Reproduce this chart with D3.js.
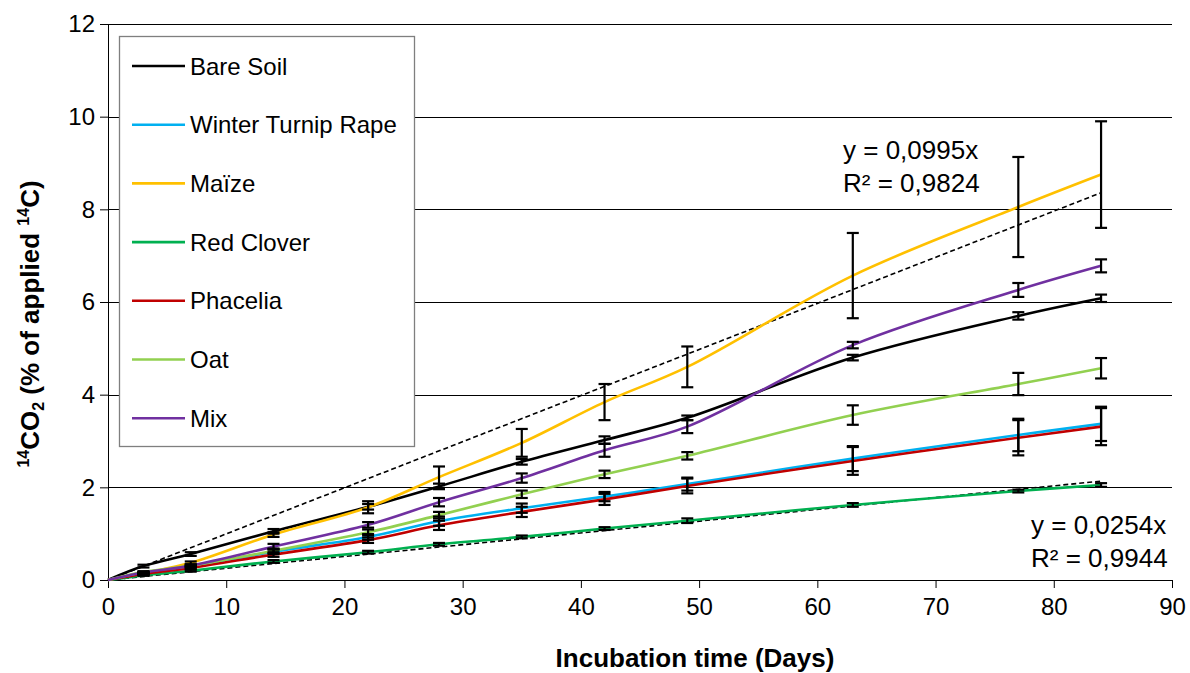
<!DOCTYPE html>
<html><head><meta charset="utf-8">
<script src="https://cdn.jsdelivr.net/npm/d3@7"></script>
<style>body{margin:0;background:#fff;} text{font-family:"Liberation Sans",Arial,sans-serif;}</style>
</head><body>
<svg id="chart" width="1190" height="673"></svg>
<script>
const days = [0, 3, 7, 14, 22, 28, 35, 42, 49, 63, 77, 84];

const seriesNames = ["Bare Soil", "Winter Turnip Rape", "Maïze", "Red Clover", "Phacelia", "Oat", "Mix"];
const seriesColors = ["#000000", "#00B0F0", "#FFC000", "#00B050", "#C00000", "#92D050", "#7030A0"];

const bareSoil  = [0, 0.30, 0.56, 1.05, 1.58, 2.02, 2.55, 3.02, 3.50, 4.80, 5.70, 6.08];
const turnip    = [0, 0.15, 0.29, 0.61, 0.93, 1.27, 1.55, 1.80, 2.07, 2.62, 3.13, 3.37];
const maize     = [0, 0.15, 0.37, 0.98, 1.57, 2.22, 2.96, 3.84, 4.60, 6.57, 8.05, 8.75];
const redClover = [0, 0.10, 0.20, 0.40, 0.60, 0.77, 0.93, 1.11, 1.28, 1.62, 1.92, 2.05];
const phacelia  = [0, 0.13, 0.26, 0.55, 0.86, 1.18, 1.47, 1.74, 2.03, 2.57, 3.07, 3.31];
const oat       = [0, 0.17, 0.31, 0.63, 1.03, 1.40, 1.85, 2.28, 2.68, 3.56, 4.23, 4.57];
const mix       = [0, 0.16, 0.31, 0.72, 1.19, 1.68, 2.20, 2.80, 3.31, 5.07, 6.26, 6.78];

const bareSoilErr  = [0, 0.03, 0.04, 0.05, 0.06, 0.06, 0.06, 0.08, 0.05, 0.06, 0.08, 0.08];
const turnipErr    = [0, 0.02, 0.02, 0.05, 0.06, 0.10, 0.10, 0.10, 0.14, 0.27, 0.35, 0.37];
const maizeErr     = [0, 0.02, 0.03, 0.05, 0.13, 0.23, 0.30, 0.39, 0.44, 0.92, 1.08, 1.15];
const redCloverErr = [0, 0.01, 0.02, 0.03, 0.03, 0.03, 0.03, 0.03, 0.05, 0.04, 0.03, 0.04];
const phaceliaErr  = [0, 0.02, 0.02, 0.05, 0.06, 0.10, 0.11, 0.12, 0.16, 0.30, 0.38, 0.40];
const oatErr       = [0, 0.02, 0.02, 0.05, 0.06, 0.07, 0.08, 0.08, 0.08, 0.21, 0.24, 0.22];
const mixErr       = [0, 0.02, 0.02, 0.06, 0.06, 0.09, 0.10, 0.14, 0.14, 0.07, 0.15, 0.14];

const trendSlopes = [0.0995, 0.0254];
const trendLabels = [["y = 0,0995x", "R² = 0,9824"], ["y = 0,0254x", "R² = 0,9944"]];
const trendEnd = 84;

const xTicks = [0, 10, 20, 30, 40, 50, 60, 70, 80, 90];
const yTicks = [0, 2, 4, 6, 8, 10, 12];

const seriesValues = [bareSoil, turnip, maize, redClover, phacelia, oat, mix];
const seriesErrors = [bareSoilErr, turnipErr, maizeErr, redCloverErr, phaceliaErr, oatErr, mixErr];

const svg = d3.select("#chart");
const x = d3.scaleLinear().domain([0, 90]).range([108, 1172]);
const y = d3.scaleLinear().domain([0, 12]).range([580, 24]);

// gridlines
svg.append("g").selectAll("line").data(yTicks.filter(d => d > 0)).join("line")
  .attr("x1", x(0)).attr("x2", x(90))
  .attr("y1", d => Math.round(y(d)) + 0.5).attr("y2", d => Math.round(y(d)) + 0.5)
  .attr("stroke", "#000").attr("stroke-width", 1);

// axes
const yAxis = svg.append("g").attr("transform", `translate(${x(0)},0)`)
  .call(d3.axisLeft(y).tickValues(yTicks).tickSize(8).tickPadding(5));
const xAxis = svg.append("g").attr("transform", `translate(0,${y(0)})`)
  .call(d3.axisBottom(x).tickValues(xTicks).tickSize(8).tickPadding(10));
[yAxis, xAxis].forEach(a => {
  a.selectAll("path,line").attr("stroke", "#000").attr("stroke-width", 1);
  a.selectAll("text").attr("font-size", 24).attr("fill", "#000")
    .attr("font-family", "Liberation Sans, Arial, sans-serif");
});

// trend lines
trendSlopes.forEach(s => {
  svg.append("line")
    .attr("x1", x(0)).attr("y1", y(0)).attr("x2", x(trendEnd)).attr("y2", y(s * trendEnd))
    .attr("stroke", "#000").attr("stroke-width", 1.6).attr("stroke-dasharray", "5,3");
});

// series lines
const line = d3.line().x(d => x(d[0])).y(d => y(d[1])).curve(d3.curveCatmullRom.alpha(0.5));
seriesValues.forEach((vals, i) => {
  svg.append("path").datum(days.map((d, j) => [d, vals[j]]))
    .attr("d", line).attr("fill", "none")
    .attr("stroke", seriesColors[i]).attr("stroke-width", 2.6);
});

// error bars
const cap = 6;
seriesValues.forEach((vals, i) => {
  const errs = seriesErrors[i];
  const g = svg.append("g").attr("stroke", "#000").attr("stroke-width", 2.2);
  days.forEach((d, j) => {
    if (d === 0) return;
    const cx = x(d), y1 = y(vals[j] + errs[j]), y2 = y(vals[j] - errs[j]);
    g.append("line").attr("x1", cx).attr("x2", cx).attr("y1", y1).attr("y2", y2);
    g.append("line").attr("x1", cx - cap).attr("x2", cx + cap).attr("y1", y1).attr("y2", y1);
    g.append("line").attr("x1", cx - cap).attr("x2", cx + cap).attr("y1", y2).attr("y2", y2);
  });
});

// trend labels
const eqPos = [[843, 159], [1031, 534]];
trendLabels.forEach((lbl, i) => {
  lbl.forEach((t, k) => {
    svg.append("text").attr("x", eqPos[i][0]).attr("y", eqPos[i][1] + k * 33)
      .attr("font-size", 26).attr("fill", "#000").text(t);
  });
});

// legend
const lg = svg.append("g");
lg.append("rect").attr("x", 119.5).attr("y", 36.5).attr("width", 295).attr("height", 410)
  .attr("fill", "#fff").attr("stroke", "#7f7f7f").attr("stroke-width", 1.3);
seriesNames.forEach((n, i) => {
  const yy = 66 + i * 58.7;
  lg.append("line").attr("x1", 132).attr("x2", 185).attr("y1", yy).attr("y2", yy)
    .attr("stroke", seriesColors[i]).attr("stroke-width", 2.6);
  lg.append("text").attr("x", 190).attr("y", yy + 8.5).attr("font-size", 24).attr("fill", "#000").text(n);
});

// axis titles
svg.append("text").attr("x", 695).attr("y", 667).attr("text-anchor", "middle")
  .attr("font-size", 26).attr("font-weight", "bold").attr("fill", "#000").text("Incubation time (Days)");

const yl = svg.append("text").attr("transform", "translate(39,324) rotate(-90)")
  .attr("text-anchor", "middle").attr("font-size", 26).attr("font-weight", "bold").attr("fill", "#000");
yl.append("tspan").attr("font-size", 16).attr("dy", -10).text("14");
yl.append("tspan").attr("dy", 10).text("CO");
yl.append("tspan").attr("font-size", 16).attr("dy", 5).text("2");
yl.append("tspan").attr("dy", -5).text(" (% of applied ");
yl.append("tspan").attr("font-size", 16).attr("dy", -10).text("14");
yl.append("tspan").attr("dy", 10).text("C)");
</script>
</body></html>
